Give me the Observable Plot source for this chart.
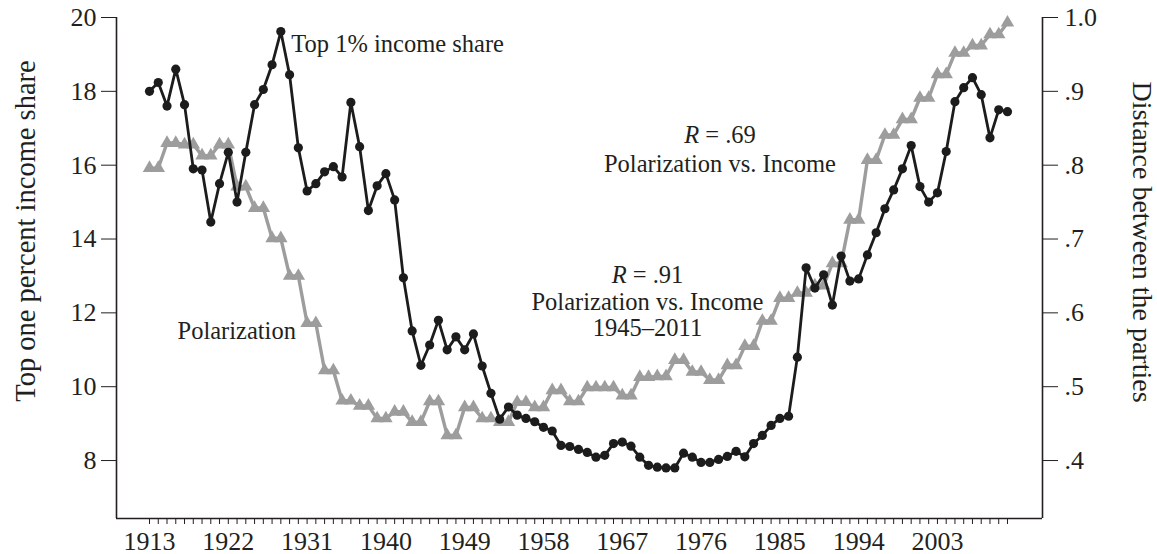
<!DOCTYPE html>
<html>
<head>
<meta charset="utf-8">
<script src="https://cdn.jsdelivr.net/npm/d3@7"></script>
<script src="https://cdn.jsdelivr.net/npm/@observablehq/plot@0.6"></script>
<style>
  html, body { margin: 0; padding: 0; background: #fff; }
  #chart { width: 1157px; height: 554px; }
</style>
</head>
<body>
<div id="chart"></div>
<script>
// ---------- data ----------
// Top 1% income share (percent), annual 1913–2011
const incomeYears = d3.range(1913, 2012);
const incomeShare = [
  18.0, 18.24, 17.6, 18.6, 17.64, 15.9, 15.87, 14.46, 15.5, 16.35,   // 1913-1922
  15.0, 16.35, 17.64, 18.05, 18.72, 19.62, 18.45, 16.47, 15.3, 15.5,  // 1923-1932
  15.82, 15.96, 15.68, 17.7, 16.5, 14.77, 15.44, 15.77, 15.06, 12.95, // 1933-1942
  11.51, 10.58, 11.13, 11.8, 11.0, 11.35, 11.0, 11.43, 10.56, 9.82,   // 1943-1952
  9.12, 9.45, 9.23, 9.14, 9.05, 8.9, 8.8, 8.41, 8.38, 8.3,            // 1953-1962
  8.22, 8.09, 8.14, 8.46, 8.5, 8.39, 8.09, 7.87, 7.82, 7.8,           // 1963-1972
  7.8, 8.2, 8.09, 7.95, 7.95, 8.03, 8.11, 8.25, 8.1, 8.46,            // 1973-1982
  8.68, 8.95, 9.14, 9.2, 10.8, 13.22, 12.67, 13.03, 12.21, 13.54,     // 1983-1992
  12.86, 12.92, 13.57, 14.17, 14.82, 15.33, 15.9, 16.53, 15.42, 15.0, // 1993-2002
  15.25, 16.37, 17.72, 18.1, 18.37, 17.91, 16.74, 17.5, 17.45         // 2003-2011
];

// Polarization (distance between the parties), one value per Congress (first year)
const congressYears = d3.range(1913, 2012, 2);
const polarization = [
  0.796, 0.830, 0.828, 0.813, 0.828, 0.771, 0.742, 0.701, 0.650, 0.586, // 1913-1931
  0.522, 0.481, 0.474, 0.457, 0.466, 0.452, 0.480, 0.434, 0.472, 0.457, // 1933-1951
  0.452, 0.479, 0.472, 0.495, 0.480, 0.499, 0.499, 0.488, 0.513, 0.514, // 1953-1971
  0.536, 0.520, 0.509, 0.529, 0.555, 0.589, 0.620, 0.627, 0.637, 0.667, // 1973-1991
  0.726, 0.807, 0.841, 0.862, 0.891, 0.923, 0.952, 0.962, 0.977, 0.993  // 1993-2011
];
const lastYear = 2011;

// axes
const incomeTicks = [8, 10, 12, 14, 16, 18, 20];
const polarizationTicks = [0.4, 0.5, 0.6, 0.7, 0.8, 0.9, 1.0];
const axisRatio = 20;               // income-share units per polarization unit
const yearLabels = d3.range(1913, 2004, 9);
const yearTicks = d3.range(1913, 2012);

const xDomain = [1909.23, 2015.0];
const yDomain = [6.43, 20];

// annotations (data coordinates)
const annotations = [
  {text: "Top 1% income share", x: 1929.2, y: 19.27, anchor: "start"},
  {text: "Polarization", x: 1916.2, y: 11.50, anchor: "start"},
  {text: "R = .69", x: 1978.16, y: 16.80, anchor: "middle"},
  {text: "Polarization vs. Income", x: 1978.16, y: 16.02, anchor: "middle"},
  {text: "R = .91", x: 1969.88, y: 13.01, anchor: "middle"},
  {text: "Polarization vs. Income", x: 1969.88, y: 12.28, anchor: "middle"},
  {text: "1945–2011", x: 1969.88, y: 11.58, anchor: "middle"}
];
const leftTitle = "Top one percent income share";
const rightTitle = "Distance between the parties";

// ---------- tables ----------
const income = incomeYears.map((year, i) => ({year, value: incomeShare[i]}));
const polar = [];
congressYears.forEach((year, i) => {
  polar.push({year, value: polarization[i]});
  if (year + 1 <= lastYear) polar.push({year: year + 1, value: polarization[i]});
});

const ink = "#231f20";
const fmtPol = v => {
  const p = v / axisRatio;
  return Math.abs(p - 1) < 1e-9 ? "1.0" : d3.format(".1f")(p).replace(/^0/, "");
};

const chart = Plot.plot({
  width: 1157,
  height: 554,
  marginLeft: 116,
  marginRight: 115,
  marginTop: 17,
  marginBottom: 36,
  style: {fontFamily: "'Liberation Serif', 'DejaVu Serif', serif", color: ink, background: "#fff", overflow: "visible"},
  x: {domain: xDomain},
  y: {domain: yDomain},
  marks: [
    // frame sides: left, right, bottom
    Plot.ruleX(xDomain, {stroke: ink, strokeWidth: 1.6}),
    Plot.ruleY([yDomain[0]], {stroke: ink, strokeWidth: 1.6}),
    // axes
    Plot.axisY({anchor: "left", ticks: incomeTicks, tickSize: 15, tickPadding: 5, fontSize: 26, label: null}),
    Plot.axisY({anchor: "right", ticks: polarizationTicks.map(p => p * axisRatio), tickFormat: fmtPol, tickSize: 15, tickPadding: 7, fontSize: 26, label: null}),
    Plot.axisX({ticks: yearTicks, tickSize: 6, tickFormat: () => "", label: null}),
    Plot.axisX({ticks: yearLabels, tickSize: 0, tickPadding: 13, tickFormat: d => String(d), fontSize: 26, label: null}),
    // axis titles
    Plot.text([leftTitle], {frameAnchor: "left", textAnchor: "middle", dx: -91, dy: -37, rotate: -90, fontSize: 28.5, fill: ink}),
    Plot.text([rightTitle], {frameAnchor: "right", textAnchor: "middle", dx: 99, dy: -26, rotate: 90, fontSize: 28, fill: ink}),
    // polarization (gray, triangles)
    Plot.line(polar, {x: "year", y: d => d.value * axisRatio, stroke: "#9d9d9d", strokeWidth: 3.4}),
    Plot.dot(polar, {x: "year", y: d => d.value * axisRatio, symbol: "triangle", r: 5, fill: "#9d9d9d"}),
    // income share (black, circles)
    Plot.line(income, {x: "year", y: "value", stroke: "#1c1c1c", strokeWidth: 2.8}),
    Plot.dot(income, {x: "year", y: "value", r: 4.6, fill: "#1c1c1c"}),
    // annotations
    Plot.text(annotations.filter(a => a.anchor === "start"), {x: "x", y: "y", text: "text", textAnchor: "start", fontSize: 24.5, fill: ink}),
    Plot.text(annotations.filter(a => a.anchor === "middle"), {x: "x", y: "y", text: "text", textAnchor: "middle", fontSize: 24.5, fill: ink})
  ]
});

document.getElementById("chart").appendChild(chart);

// italic R in the correlation labels
d3.select(chart).selectAll("text").each(function() {
  const t = this.textContent;
  if (/^R = /.test(t)) {
    const sel = d3.select(this);
    sel.text(null);
    sel.append("tspan").attr("font-style", "italic").text("R");
    sel.append("tspan").text(t.slice(1));
  }
});
</script>
</body>
</html>
